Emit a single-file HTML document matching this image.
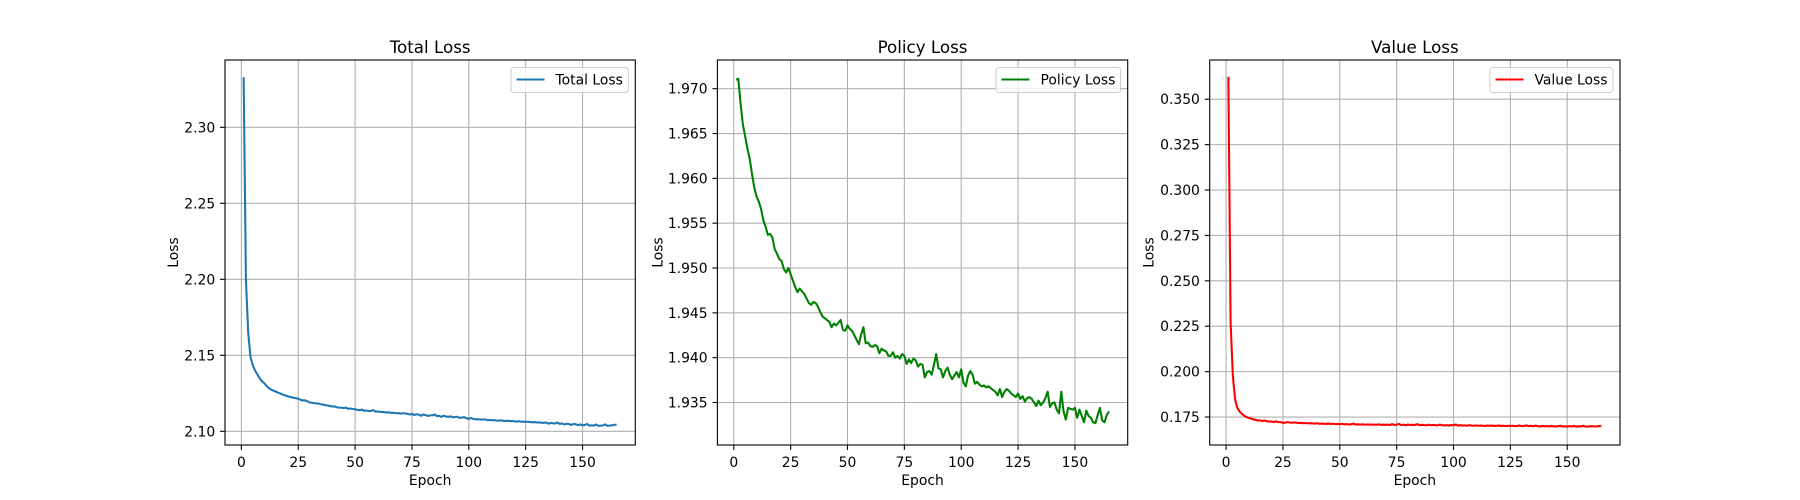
<!DOCTYPE html>
<html><head><meta charset="utf-8"><style>
html,body{margin:0;padding:0;background:#fff;width:1800px;height:500px;overflow:hidden}
svg{display:block;font-family:"DejaVu Sans","Liberation Sans",sans-serif}
</style></head><body>
<svg id="fig" width="1800" height="500"></svg>
<script>
const epochs = [];
for (let i = 1; i <= 165; i++) epochs.push(i);
const xTicks = [0, 25, 50, 75, 100, 125, 150];
const totalLoss = [2.3330,2.2000,2.1650,2.1490,2.1435,2.1400,2.1375,2.1350,2.1330,2.1318,2.1300,2.1285,2.1275,2.1268,2.1262,2.1255,2.1250,2.1242,2.1238,2.1232,2.1228,2.1224,2.1220,2.1218,2.1214,
2.1208,2.1203,2.1204,2.1198,2.1190,2.1188,2.1185,2.1184,2.1182,2.1178,2.1175,2.1172,2.1170,2.1167,2.1163,2.1164,2.1158,2.1156,2.1156,2.1153,2.1156,2.1148,2.1150,2.1147,2.1145,2.1141,2.1139,2.1143,2.1135,2.1137,2.1133,2.1134,2.1140,2.1129,2.1131,2.1127,2.1128,2.1125,2.1124,2.1125,2.1121,2.1122,2.1119,2.1120,2.1117,2.1118,2.1118,2.1115,2.1111,2.1115,2.1107,2.1112,2.1110,2.1102,2.1111,2.1107,2.1101,2.1105,2.1105,2.1111,2.1100,2.1102,2.1095,2.1103,2.1097,2.1095,2.1099,2.1092,2.1094,2.1096,2.1088,2.1091,2.1093,2.1086,2.1082,2.1088,2.1081,2.1079,2.1080,2.1078,2.1077,2.1079,2.1074,2.1075,2.1073,2.1074,2.1071,2.1070,2.1073,2.1069,2.1068,2.1070,2.1067,2.1068,2.1066,2.1064,2.1067,2.1063,2.1064,2.1062,2.1063,2.1061,2.1059,2.1061,2.1058,2.1059,2.1057,2.1056,2.1058,2.1051,2.1055,2.1053,2.1052,2.1058,2.1048,2.1052,2.1045,2.1050,2.1048,2.1042,2.1048,2.1047,2.1040,2.1046,2.1039,2.1042,2.1048,2.1037,2.1040,2.1038,2.1045,2.1036,2.1037,2.1039,2.1046,2.1036,2.1038,2.1040,2.1042,2.1045];
const policyLoss = [1.9710,1.9711,1.9683,1.9660,1.9647,1.9633,1.9622,1.9605,1.9590,1.9580,1.9574,1.9566,1.9553,1.9546,1.9537,1.9538,1.9534,1.9521,1.9516,1.9510,1.9508,1.9499,1.9495,1.9500,1.9493,1.9486,1.9479,1.9473,1.9477,1.9474,1.9471,1.9466,1.9461,1.9459,1.9462,1.9461,1.9457,1.9451,1.9446,1.9444,1.9442,1.9440,1.9434,1.9438,1.9436,1.9439,1.9442,1.9431,1.9430,1.9436,1.9432,1.9430,1.9425,1.9420,1.9415,1.9426,1.9434,1.9416,1.9417,1.9413,1.9412,1.9414,1.9413,1.9405,1.9410,1.9408,1.9407,1.9402,1.9402,1.9406,1.9400,1.9402,1.9399,1.9404,1.9402,1.9393,1.9398,1.9394,1.9399,1.9397,1.9390,1.9393,1.9392,1.9378,1.9384,1.9385,1.9381,1.9392,1.9404,1.9388,1.9387,1.9378,1.9385,1.9389,1.9381,1.9376,1.9380,1.9384,1.9378,1.9387,1.9372,1.9368,1.9380,1.9385,1.9381,1.9371,1.9373,1.9370,1.9368,1.9369,1.9367,1.9368,1.9366,1.9364,1.9362,1.9358,1.9365,1.9356,1.9362,1.9365,1.9363,1.9360,1.9358,1.9356,1.9360,1.9354,1.9357,1.9351,1.9355,1.9356,1.9354,1.9350,1.9346,1.9352,1.9347,1.9350,1.9355,1.9362,1.9345,1.9349,1.9350,1.9342,1.9338,1.9362,1.9340,1.9331,1.9344,1.9343,1.9342,1.9344,1.9333,1.9342,1.9335,1.9328,1.9341,1.9335,1.9333,1.9328,1.9327,1.9336,1.9344,1.9330,1.9328,1.9336,1.9340];
const valueLoss = [0.3624,0.2268,0.1973,0.1844,0.1799,0.1780,0.1767,0.1757,0.1750,0.1745,0.1741,0.1737,0.1734,0.1731,0.1731,0.1728,0.1731,0.1726,0.1725,0.1725,0.1723,0.1726,0.1722,0.1722,0.1718,0.1719,0.1722,0.1720,0.1719,0.1720,
0.1719,0.1717,0.1718,0.1716,0.1717,0.1715,0.1716,0.1715,0.1714,0.1716,0.1713,0.1714,0.1713,0.1712,0.1714,0.1712,0.1713,0.1711,0.1712,0.1710,0.1713,0.1710,0.1711,0.1709,0.1710,0.1714,0.1709,0.1710,0.1709,0.1710,0.1708,0.1709,0.1709,0.1708,0.1709,0.1707,0.1710,0.1707,0.1708,0.1707,0.1708,0.1706,0.1711,0.1706,0.1708,0.1712,0.1706,0.1708,0.1705,0.1709,0.1706,0.1707,0.1706,0.1711,0.1705,0.1707,0.1706,0.1704,0.1708,0.1705,0.1706,0.1705,0.1704,0.1708,0.1705,0.1704,0.1705,0.1703,0.1706,0.1704,0.1709,0.1703,0.1705,0.1703,0.1704,0.1702,0.1705,0.1703,0.1702,0.1704,0.1702,0.1703,0.1702,0.1701,0.1703,0.1702,0.1703,0.1701,0.1702,0.1703,0.1701,0.1702,0.1700,0.1702,0.1701,0.1702,0.1700,0.1701,0.1703,0.1700,0.1701,0.1704,0.1700,0.1702,0.1699,0.1703,0.1700,0.1698,0.1701,0.1699,0.1700,0.1698,0.1701,0.1699,0.1697,0.1700,0.1702,0.1698,0.1699,0.1697,0.1700,0.1698,0.1701,0.1697,0.1699,0.1698,0.1702,0.1698,0.1697,0.1699,0.1700,0.1698,0.1699,0.1700,0.1700];
const totalTicks = ["2.10","2.15","2.20","2.25","2.30"];
const policyTicks = ["1.935","1.940","1.945","1.950","1.955","1.960","1.965","1.970"];
const valueTicks = ["0.175","0.200","0.225","0.250","0.275","0.300","0.325","0.350"];

const NS = "http://www.w3.org/2000/svg";
const svg = document.getElementById('fig');
function el(tag, attrs, parent) {
  const e = document.createElementNS(NS, tag);
  for (const k in attrs) e.setAttribute(k, attrs[k]);
  (parent || svg).appendChild(e);
  return e;
}
const panels = [
  {key:'total', title:'Total Loss', data: totalLoss, ticks: totalTicks, ymin:2.0910, ymax:2.3443, color:'#1f77b4', left:225, legLeft:511, lab:47},
  {key:'policy', title:'Policy Loss', data: policyLoss, ticks: policyTicks, ymin:1.93026, ymax:1.97320, color:'#008000', left:717.4, legLeft:996, lab:55},
  {key:'value', title:'Value Loss', data: valueLoss, ticks: valueTicks, ymin:0.1596, ymax:0.3716, color:'#ff0000', left:1209.7, legLeft:1490, lab:56}
];
const W = 410.3, TOP = 60, BOT = 445, XMIN = -7.2, XMAX = 173.2;
panels.forEach(p => {
  const g = el('g', {});
  
  
  const xs = v => p.left + (v - XMIN) / (XMAX - XMIN) * W;
  const ys = v => BOT - (v - p.ymin) / (p.ymax - p.ymin) * (BOT - TOP);
  xTicks.forEach(t => {
    const x = xs(t);
    const gl = el('line', {x1:x, x2:x, y1:TOP, y2:BOT, stroke:'#b0b0b0', 'stroke-width':1.1}, g);
    
    
    el('line', {x1:x, x2:x, y1:BOT, y2:BOT+4.9, stroke:'#000', 'stroke-width':1.1}, g);
    const tx = el('text', {x:x, y:BOT+22, 'font-size':13.9, 'text-anchor':'middle', fill:'#000'}, g);
    tx.textContent = t;
    
    
  });
  p.ticks.forEach(t => {
    const y = ys(parseFloat(t));
    const gl = el('line', {x1:p.left, x2:p.left+W, y1:y, y2:y, stroke:'#b0b0b0', 'stroke-width':1.1}, g);
    
    
    el('line', {x1:p.left-4.9, x2:p.left, y1:y, y2:y, stroke:'#000', 'stroke-width':1.1}, g);
    const ty = el('text', {x:p.left-9.8, y:y+5, 'font-size':13.9, 'text-anchor':'end', fill:'#000'}, g);
    ty.textContent = t;
    
    
  });
  let d = '';
  p.data.forEach((v, i) => { d += (i ? 'L' : 'M') + xs(epochs[i]).toFixed(2) + ' ' + ys(v).toFixed(2); });
  const line = el('path', {d:d, fill:'none', stroke:p.color, 'stroke-width':2.08, 'stroke-linejoin':'round'}, g);
  
  
  const fr = el('rect', {x:p.left, y:TOP, width:W, height:BOT-TOP, fill:'none', stroke:'#000', 'stroke-width':1.1}, g);
  
  
  const ti = el('text', {x:p.left+W/2, y:TOP-7, 'font-size':16.7, 'text-anchor':'middle', fill:'#000'}, g);
  ti.textContent = p.title;
  
  
  const xl = el('text', {x:p.left+W/2, y:485, 'font-size':13.9, 'text-anchor':'middle', fill:'#000'}, g);
  xl.textContent = 'Epoch';
  
  
  const lx = p.left - p.lab;
  const yl = el('text', {x:lx, y:(TOP+BOT)/2, 'font-size':13.9, 'text-anchor':'middle', fill:'#000', transform:'rotate(-90 '+lx+' '+((TOP+BOT)/2)+')'}, g);
  yl.textContent = 'Loss';
  
  
  const lg = el('g', {}, g);
  
  
  const lw = p.left + W - 7 - p.legLeft;
  el('rect', {x:p.legLeft, y:67.5, width:lw, height:25, rx:3, fill:'#fff', 'fill-opacity':0.8, stroke:'#d0d0d0', 'stroke-width':1.1}, lg);
  el('line', {x1:p.legLeft+5.5, x2:p.legLeft+33.5, y1:79.5, y2:79.5, stroke:p.color, 'stroke-width':2.08}, lg);
  const lt = el('text', {x:p.legLeft+44.5, y:84.5, 'font-size':13.9, fill:'#000'}, lg);
  lt.textContent = p.title;
  
  
});
</script>
</body></html>
